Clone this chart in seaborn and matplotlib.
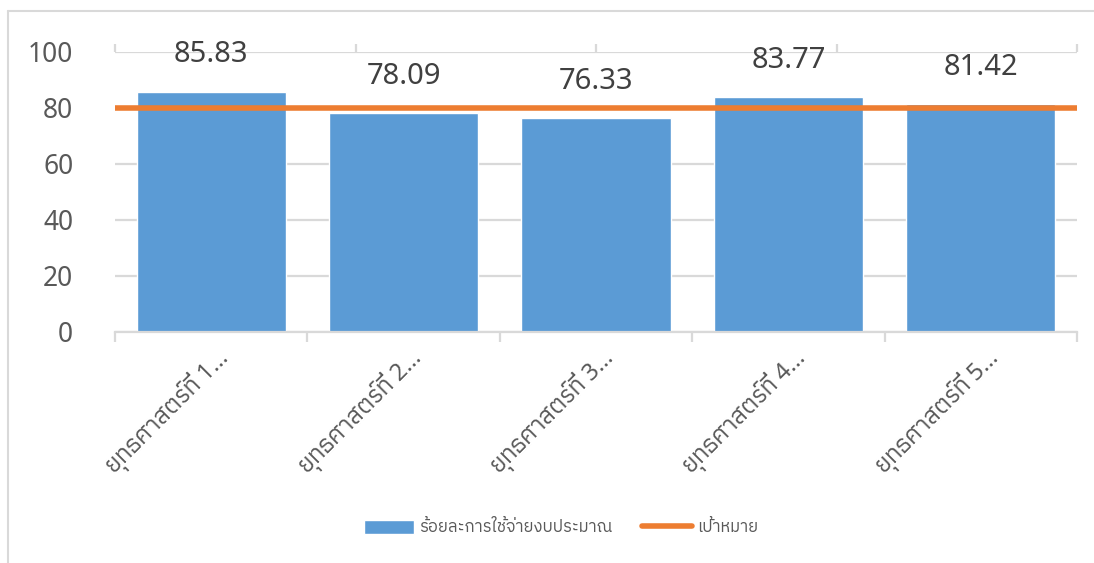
# Bar chart: budget spending percentage per strategy vs target line

import numpy as np
import matplotlib
matplotlib.use('Agg')
import matplotlib.pyplot as plt
import matplotlib.transforms as mtrans
from matplotlib import font_manager
from matplotlib.ft2font import FT2Font
from matplotlib.lines import Line2D
import seaborn as sns

categories = ['ยุทธศาสตร์ที่ 1…', 'ยุทธศาสตร์ที่ 2…', 'ยุทธศาสตร์ที่ 3…',
              'ยุทธศาสตร์ที่ 4…', 'ยุทธศาสตร์ที่ 5…']
spend_pct = [85.83, 78.09, 76.33, 83.77, 81.42]
target = [80, 80, 80, 80, 80]
yticks = [0, 20, 40, 60, 80, 100]
bar_name = 'ร้อยละการใช้จ่ายงบประมาณ'
line_name = 'เป้าหมาย'

# find an installed font that has Thai glyphs
thai_font = None
for f in font_manager.fontManager.ttflist:
    try:
        if 0x0E22 in FT2Font(f.fname).get_charmap():
            thai_font = f.name
            if 'Thai' in f.name:
                break
    except Exception:
        pass

sns.set_style('white')
fams = ['Noto Sans'] + ([thai_font] if thai_font else []) + ['DejaVu Sans']
plt.rcParams['font.family'] = fams

grey_txt = '#595959'
grid_c = '#D9D9D9'
blue = '#5B9BD5'
orange = '#ED7D31'

fig = plt.figure(figsize=(10.94, 5.63), dpi=100)
ax = fig.add_axes([115/1094, 1 - 332/563, (1077-115)/1094, (332-52)/563])

sns.barplot(x=categories, y=spend_pct, color=blue, width=0.775, ax=ax,
            saturation=1, label=bar_name)
ax.set_xlim(-0.5, len(categories) - 0.5)
ax.set_ylim(0, 100)
ax.set_yticks(yticks)
ax.set_axisbelow(True)
ax.grid(axis='y', color=grid_c, lw=1.6)
ax.tick_params(axis='y', length=0, pad=30, labelsize=19, labelcolor=grey_txt)
ax.tick_params(axis='x', which='major', length=0, pad=16, labelsize=17,
               labelcolor=grey_txt)
ax.set_xticks(np.arange(-0.5, len(categories)), minor=True)
ax.tick_params(axis='x', which='minor', length=7, width=1.6, color=grid_c)
shift = mtrans.ScaledTranslation(14/100, 0, fig.dpi_scale_trans)
for lab in ax.get_xticklabels():
    lab.set_rotation(45)
    lab.set_ha('right')
    lab.set_va('center')
    lab.set_rotation_mode('anchor')
    lab.set_transform(lab.get_transform() + shift)
for s in ['top', 'right', 'left']:
    ax.spines[s].set_visible(False)
ax.spines['bottom'].set_color(grid_c)
ax.spines['bottom'].set_linewidth(1.6)
ax.set_xlabel('')
ax.set_ylabel('')

ax.bar_label(ax.containers[0], fmt='%.2f', padding=16, fontsize=21, color='#404040')

# target line on a secondary category axis (points on tick marks)
ax2 = ax.twiny()
sns.lineplot(x=list(range(len(target))), y=target, color=orange, lw=4,
             solid_capstyle='round', ax=ax2, label=line_name)
ax2.set_xlim(0, len(target) - 1)
ax2.set_xticks(range(len(target)))
ax2.set_xticklabels([])
ax2.tick_params(axis='x', length=6, width=1.6, color=grid_c, direction='out')
for s in ax2.spines.values():
    s.set_visible(False)
ax2.get_legend().remove()
ax2.set_ylim(0, 100)

h1, l1 = ax.get_legend_handles_labels()
h2, l2 = ax2.get_legend_handles_labels()
if ax.get_legend():
    ax.get_legend().remove()
leg = fig.legend(h1 + h2, l1 + l2, loc='center', bbox_to_anchor=(0.513, 1 - 528/563),
                 ncol=2, frameon=False, fontsize=12, handlelength=3.0,
                 handleheight=0.9, columnspacing=1.8, handletextpad=0.3)
for t in leg.get_texts():
    t.set_color(grey_txt)

# partial chart-area border
fig.add_artist(Line2D([8/1094, 8/1094], [0, 1 - 11/563], color=grid_c, lw=1.5))
fig.add_artist(Line2D([8/1094, 1], [1 - 11/563, 1 - 11/563], color=grid_c, lw=1.5))

fig.savefig('out.png', dpi=100)
